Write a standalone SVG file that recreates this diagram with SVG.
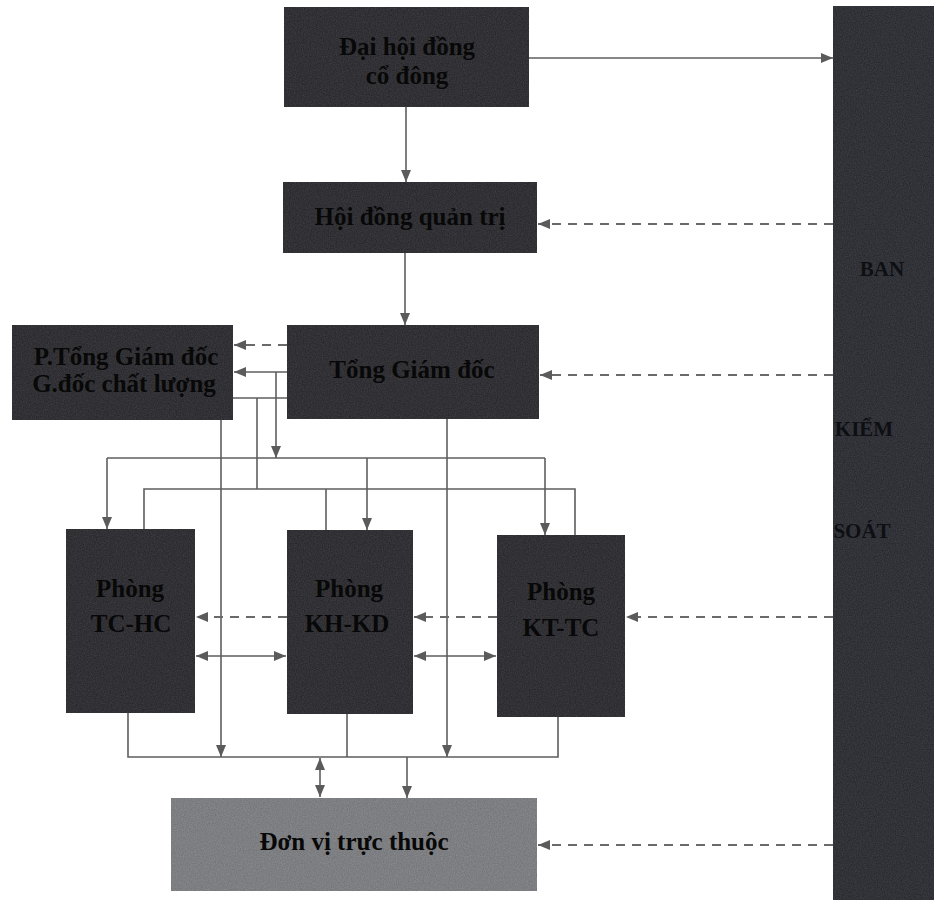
<svg xmlns="http://www.w3.org/2000/svg" width="934" height="907" viewBox="0 0 934 907">
<style>
.box{fill:#26272b;filter:url(#grain)}
.lt{fill:#7e7f82;filter:url(#grain)}
.bks{fill:#25282f;filter:url(#grain)}
.t{font-family:"Liberation Serif","Times New Roman",serif;font-weight:bold;font-size:25px;fill:#080808;text-anchor:middle}
.tb{font-family:"Liberation Serif","Times New Roman",serif;font-weight:bold;font-size:21px;fill:#0e0f13;text-anchor:middle}
.c{fill:none;stroke:#5e5e5e;stroke-width:1.6}
.d{fill:none;stroke:#6a6a6a;stroke-width:1.8;stroke-dasharray:9 7}
.a{marker-end:url(#ah)}
.aa{marker-start:url(#ah);marker-end:url(#ah)}
</style>
<defs>
<filter id="grain" x="0" y="0" width="100%" height="100%" color-interpolation-filters="sRGB">
<feTurbulence type="fractalNoise" baseFrequency="0.85" numOctaves="2" seed="4" result="n"/>
<feColorMatrix in="n" type="matrix" values="1 0 0 0 0 1 0 0 0 0 1 0 0 0 0 0 0 0 0 0.13" result="g"/>
<feComposite in="g" in2="SourceGraphic" operator="in" result="gi"/>
<feMerge><feMergeNode in="SourceGraphic"/><feMergeNode in="gi"/></feMerge>
</filter>
<marker id="ah" viewBox="0 0 12 10" refX="12" refY="5" markerWidth="12" markerHeight="10" markerUnits="userSpaceOnUse" orient="auto-start-reverse">
<path d="M0,0 L12,5 L0,10 z" fill="#5b5b5b"/>
</marker>
</defs>
<rect width="934" height="907" fill="#ffffff"/>

<g id="connectors">
<path class="c a" d="M529,58 H833"/>
<path class="c a" d="M406,107 V182"/>
<path class="c a" d="M405,253 V325"/>
<path class="d a" d="M833,224 H538"/>
<path class="d a" d="M833,375 H540"/>
<path class="d a" d="M287,345 H234"/>
<path class="c a" d="M287,372 H234"/>
<path class="c a" d="M276,372 V458"/>
<path class="c" d="M233,398 H287"/>
<path class="c" d="M257,398 V489"/>
<path class="c" d="M107,458 H545"/>
<path class="c a" d="M107,458 V529"/>
<path class="c a" d="M367,458 V530"/>
<path class="c a" d="M545,458 V535"/>
<path class="c" d="M144,529 V489 H575 V535"/>
<path class="c" d="M326,489 V530"/>
<path class="c a" d="M221,420 V757"/>
<path class="c a" d="M447,419 V757"/>
<path class="c" d="M128,713 V757 H558 V717"/>
<path class="c" d="M347,714 V757"/>
<path class="c aa" d="M320,758 V797"/>
<path class="c a" d="M407,757 V798"/>
<path class="d a" d="M833,845 H538"/>
<path class="d a" d="M833,617 H626"/>
<path class="d a" d="M497,617 H414"/>
<path class="d a" d="M287,617 H196"/>
<path class="c aa" d="M196,656 H286"/>
<path class="c aa" d="M414,656 H496"/>
</g>

<g id="dhdcd">
<rect class="box" x="284" y="7" width="245" height="100"/>
<text class="t" x="407" y="55">Đại hội đồng</text>
<text class="t" x="407" y="84">cổ đông</text>
</g>
<g id="hdqt">
<rect class="box" x="283" y="182" width="254" height="71"/>
<text class="t" x="410" y="225">Hội đồng quản trị</text>
</g>
<g id="tgd">
<rect class="box" x="287" y="325" width="252" height="94"/>
<text class="t" x="412" y="378">Tổng Giám đốc</text>
</g>
<g id="ptgd">
<rect class="box" x="12" y="325" width="221" height="95"/>
<text class="t" x="126" y="365">P.Tổng Giám đốc</text>
<text class="t" x="124" y="392">G.đốc chất lượng</text>
</g>
<g id="tchc">
<rect class="box" x="66" y="529" width="129" height="184"/>
<text class="t" x="130" y="597">Phòng</text>
<text class="t" x="131" y="632">TC-HC</text>
</g>
<g id="khkd">
<rect class="box" x="287" y="530" width="126" height="184"/>
<text class="t" x="349" y="597">Phòng</text>
<text class="t" x="347" y="632">KH-KD</text>
</g>
<g id="kttc">
<rect class="box" x="497" y="535" width="128" height="182"/>
<text class="t" x="561" y="600">Phòng</text>
<text class="t" x="561" y="636">KT-TC</text>
</g>
<g id="donvi">
<rect class="lt" x="171" y="798" width="366" height="93"/>
<text class="t" x="354" y="850">Đơn vị trực thuộc</text>
</g>
<g id="bks">
<rect class="bks" x="833" y="6" width="101" height="894"/>
<text class="tb" x="882" y="276">BAN</text>
<text class="tb" x="864" y="436">KIỂM</text>
<text class="tb" x="862" y="538">SOÁT</text>
</g>
</svg>
